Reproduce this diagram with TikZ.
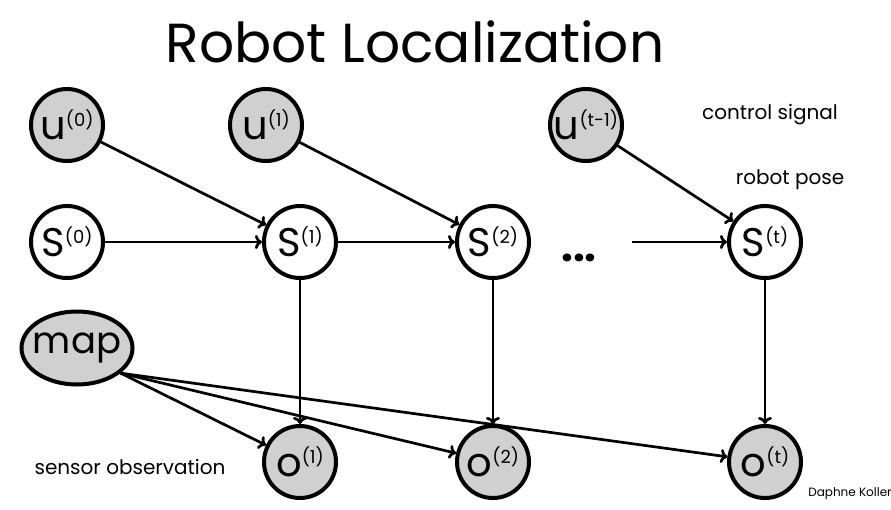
\documentclass[tikz,border=0pt]{standalone}
\usepackage{fontspec}
\setmainfont{Poppins}
\usetikzlibrary{arrows.meta,shapes.geometric}

\definecolor{nodegray}{RGB}{208,208,208}
\newcommand{\rvar}[2]{\fontsize{40}{40}\selectfont #1\raisebox{13pt}{\fontsize{18}{18}\selectfont(#2)}}

\begin{document}
\begin{tikzpicture}[x=1pt,y=-1pt,
    var/.style={circle,draw,line width=4pt,minimum size=72pt,inner sep=0pt},
    obs/.style={var,fill=nodegray},
    edge/.style={line width=2.7pt,-{To[length=7pt,width=14pt]}},
    note/.style={font=\fontsize{20}{20}\selectfont}]
    \useasboundingbox (0,0) rectangle (891,509);

    \node (title) at (415,42) {\fontsize{55}{55}\selectfont Robot Localization};

    % controls
    \node[obs] (u0) at (67,125) {\rvar{u}{0}};
    \node[obs] (u1) at (266,125) {\rvar{u}{1}};
    \node[obs] (ut) at (586,125) {\rvar{u}{t-1}};

    % poses
    \node[var] (s0) at (67,242) {\rvar{S}{0}};
    \node[var] (s1) at (300,242) {\rvar{S}{1}};
    \node[var] (s2) at (493,242) {\rvar{S}{2}};
    \node[var] (st) at (765,242) {\rvar{S}{t}};
    \node (dots) at (579,258) {\fontsize{42}{42}\selectfont\bfseries ...};
    \coordinate (stin) at (632,242);

    % map and observations
    \node[obs,ellipse,inner xsep=-6pt,inner ysep=0pt,minimum width=111pt,minimum height=73pt] (map) at (77,348) {\fontsize{37}{37}\selectfont map};
    \node[obs] (o1) at (300,462) {\rvar{o}{1}};
    \node[obs] (o2) at (493,462) {\rvar{o}{2}};
    \node[obs] (ot) at (765,462) {\rvar{o}{t}};

    \node[note] (lctl) at (770,115) {control signal};
    \node[note] (lpose) at (790,180) {robot pose};
    \node[note] (lobs) at (130,467) {sensor observation};
    \node (credit) at (850,494) {\fontsize{12}{12}\selectfont Daphne Koller};

    \draw[edge] (u0) -- (s1);
    \draw[edge] (u1) -- (s2);
    \draw[edge] (ut) -- (st);
    \draw[edge] (s0) -- (s1);
    \draw[edge] (s1) -- (s2);
    \draw[edge] (stin) -- (st);
    \draw[edge] (s1) -- (o1);
    \draw[edge] (s2) -- (o2);
    \draw[edge] (st) -- (ot);
    \draw[edge] (map.-30) -- (o1);
    \draw[edge] (map.-30) -- (o2);
    \draw[edge] (map.-30) -- (ot);
\end{tikzpicture}
\end{document}
